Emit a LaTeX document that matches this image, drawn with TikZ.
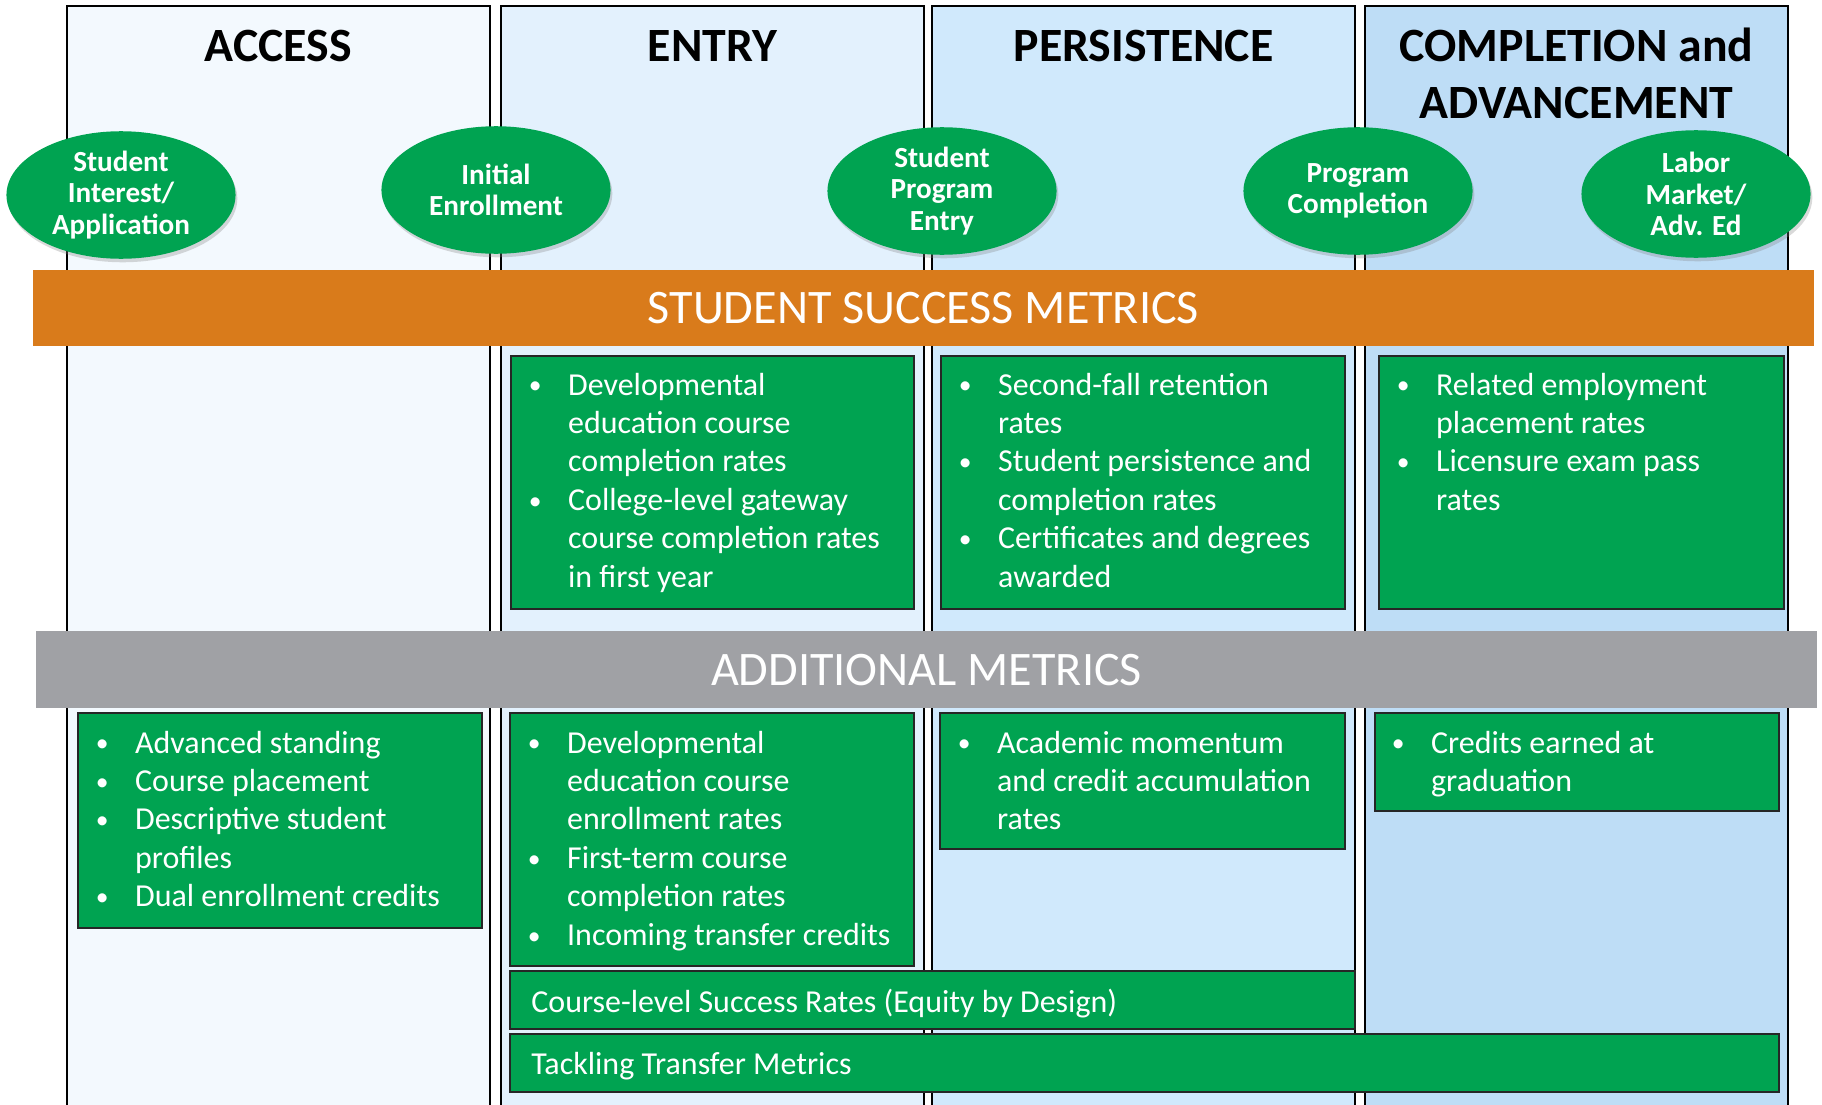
\documentclass[tikz,border=0pt]{standalone}
\usepackage{fontspec}
\setmainfont{Carlito}
\usepackage{tikz}
\usetikzlibrary{shapes.geometric}
\usetikzlibrary{shadows}

\definecolor{accessbg}{HTML}{F3F9FE}
\definecolor{entrybg}{HTML}{E3F1FD}
\definecolor{persistbg}{HTML}{D0E9FC}
\definecolor{complbg}{HTML}{BEDDF6}
\definecolor{ssmorange}{HTML}{D97B1B}
\definecolor{amgray}{HTML}{A0A1A5}
\definecolor{boxgreen}{HTML}{00A351}

% bullet list: bullet column, then text lines
\newcommand{\bul}{\hspace{-4.2pt}\raisebox{0.6pt}{\scalebox{0.8}{\textbullet}}}
\newcommand{\blist}[1]{\begin{tabular}[t]{@{}p{18.1pt}@{}l@{}}#1\end{tabular}}

\begin{document}
\begin{tikzpicture}[x=0.02cm, y=-0.02cm]
\useasboundingbox (0,0) rectangle (1822,1105);
\clip (0,0) rectangle (1822,1105);

% stage columns
\begin{scope}[line width=0.8pt]
    \draw[fill=accessbg] (67,6) rectangle (490,1120);
    \draw[fill=entrybg] (501,6) rectangle (924,1120);
    \draw[fill=persistbg] (932,6) rectangle (1355,1120);
    \draw[fill=complbg] (1365,6) rectangle (1788,1120);
\end{scope}

\begin{scope}[every node/.style={font=\fontsize{27.2}{32.1}\selectfont\bfseries,anchor=base,inner sep=0}]
    \node (access) at (278.5,62) {ACCESS};
    \node (entry) at (712.5,62) {ENTRY};
    \node (persist) at (1143.5,62) {PERSISTENCE};
    \node (compl) at (1576.5,62) {\begin{tabular}[t]{@{}c@{}}COMPLETION and\\ADVANCEMENT\end{tabular}};
\end{scope}

% milestones
\begin{scope}[every node/.style={ellipse,fill=boxgreen,text=white,align=center,
              minimum width=130.4pt,minimum height=72.6pt,inner sep=0,
              font=\fontsize{16.6}{18}\selectfont\bfseries,
              drop shadow={shadow xshift=1pt,shadow yshift=-2pt,opacity=0.3}}]
    \node (interest) at (121,195) {Student\\Interest/\\Application};
    \node (enroll) at (496,190) {Initial\\Enrollment};
    \node (progentry) at (942,191) {Student\\Program\\Entry};
    \node (progcompl) at (1358,191) {Program\\Completion};
    \node (labor) at (1696,194) {Labor\\Market/\\Adv. Ed};
\end{scope}

% bands
\fill[ssmorange] (33,270) rectangle (1814,346);
\fill[amgray] (36,631) rectangle (1817,708);
\begin{scope}[every node/.style={text=white,font=\fontsize{27.4}{32.1}\selectfont,inner sep=0}]
    \node (ssm) at (923.5,308) {STUDENT SUCCESS METRICS};
    \node (am) at (926.5,670) {ADDITIONAL METRICS};
\end{scope}

% metric boxes
\begin{scope}[fill=boxgreen,draw=black!85,line width=1.1pt]
    \filldraw (511,356) rectangle (914,609);
    \filldraw (941,356) rectangle (1345,609);
    \filldraw (1379,356) rectangle (1784,609);
    \filldraw (78,713) rectangle (482,928);
    \filldraw (510,713) rectangle (914,966);
    \filldraw (940,713) rectangle (1345,849);
    \filldraw (1375,713) rectangle (1779,811);
    \filldraw (510,971) rectangle (1355,1029);
    \filldraw (510,1034) rectangle (1779,1092);
\end{scope}

\begin{scope}[every node/.style={text=white,anchor=base west,inner sep=0,
              font=\fontsize{18.2}{21.9}\selectfont}]
    \node (ssmentry) at (536,395) {\blist{%
        \bul & Developmental\\ & education course\\ & completion rates\\
        \bul & College-level gateway\\ & course completion rates\\ & in first year}};
    \node (ssmpersist) at (966,395) {\blist{%
        \bul & Second-fall retention\\ & rates\\
        \bul & Student persistence and\\ & completion rates\\
        \bul & Certificates and degrees\\ & awarded}};
    \node (ssmcompl) at (1404,395) {\blist{%
        \bul & Related employment\\ & placement rates\\
        \bul & Licensure exam pass\\ & rates}};
    \node (amaccess) at (103,753) {\blist{%
        \bul & Advanced standing\\
        \bul & Course placement\\
        \bul & Descriptive student\\ & profiles\\
        \bul & Dual enrollment credits}};
    \node (amentry) at (535,753) {\blist{%
        \bul & Developmental\\ & education course\\ & enrollment rates\\
        \bul & First-term course\\ & completion rates\\
        \bul & Incoming transfer credits}};
    \node (ampersist) at (965,753) {\blist{%
        \bul & Academic momentum\\ & and credit accumulation\\ & rates}};
    \node (amcompl) at (1399,753) {\blist{%
        \bul & Credits earned at\\ & graduation}};
    \node (courselevel) at (531,1012) {Course-level Success Rates (Equity by Design)};
    \node (transfer) at (531,1074) {Tackling Transfer Metrics};
\end{scope}

\end{tikzpicture}
\end{document}
